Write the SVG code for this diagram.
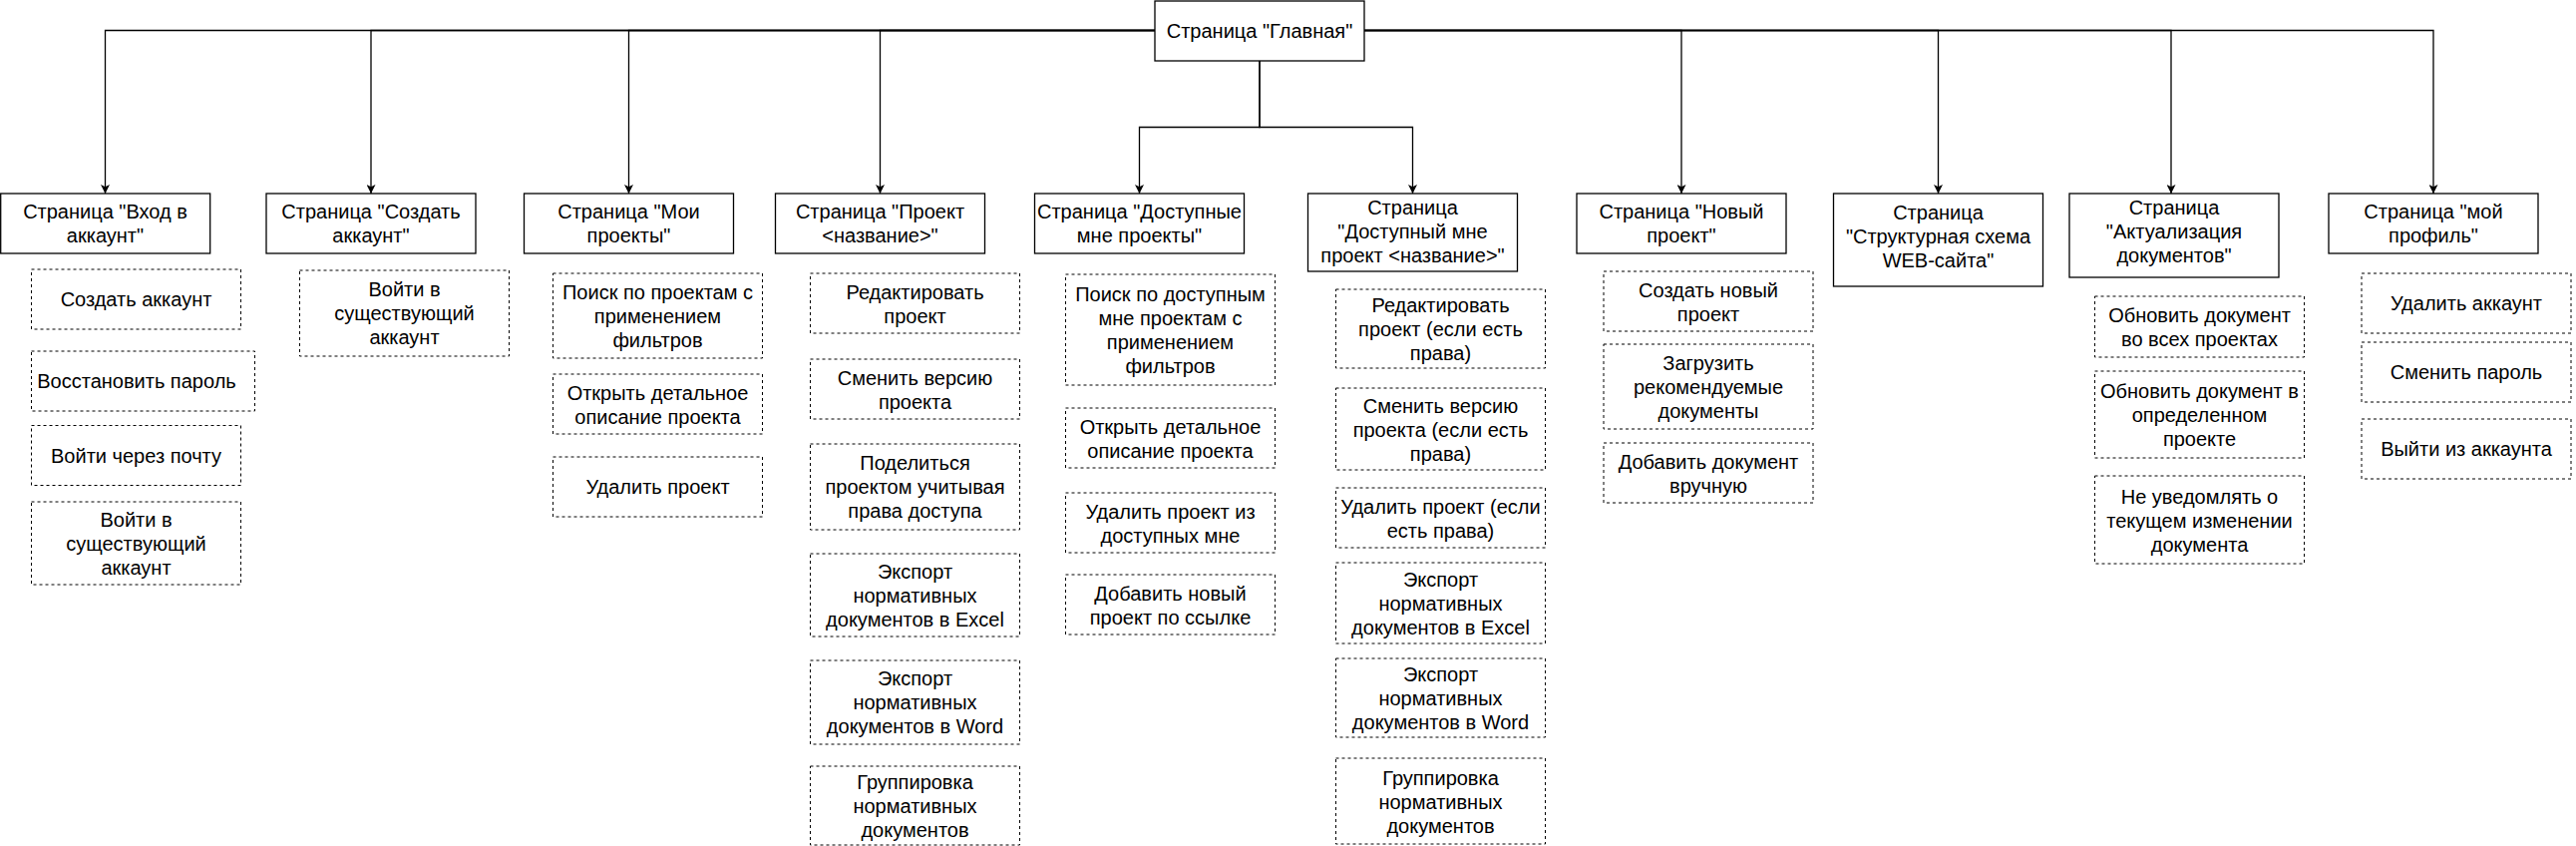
<svg xmlns="http://www.w3.org/2000/svg" width="2583" height="848" viewBox="0 0 2583 848">
<style>
text{font-family:"Liberation Sans",Arial,Helvetica,sans-serif;font-size:20px;fill:#000;text-anchor:middle}
.page{fill:#fff;stroke:#000;stroke-width:1.3}
.act{fill:#fff;stroke:#000;stroke-width:1;stroke-dasharray:3 3}
.edge{fill:none;stroke:#000;stroke-width:1.3}
</style>
<defs>
<marker id="arr" viewBox="0 0 10 10" refX="10" refY="5" markerWidth="9" markerHeight="9" markerUnits="userSpaceOnUse" orient="auto">
<path d="M0,0 L10,5 L0,10 L2.5,5 z" fill="#000"/>
</marker>
</defs>
<rect width="2583" height="848" fill="#fff"/>
<g id="connectors">
<path class="edge" marker-end="url(#arr)" d="M1158,30.5 H105.5 V194"/>
<path class="edge" marker-end="url(#arr)" d="M1158,30.5 H372 V194"/>
<path class="edge" marker-end="url(#arr)" d="M1158,30.5 H630.5 V194"/>
<path class="edge" marker-end="url(#arr)" d="M1158,30.5 H882.5 V194"/>
<path class="edge" marker-end="url(#arr)" d="M1263,61 V127.5 H1142.5 V194"/>
<path class="edge" marker-end="url(#arr)" d="M1263,61 V127.5 H1416.5 V194"/>
<path class="edge" marker-end="url(#arr)" d="M1368,30.5 H1686 V194"/>
<path class="edge" marker-end="url(#arr)" d="M1368,30.5 H1943.5 V194"/>
<path class="edge" marker-end="url(#arr)" d="M1368,30.5 H2177 V194"/>
<path class="edge" marker-end="url(#arr)" d="M1368,30.5 H2440 V194"/>
</g>
<g id="root"><rect class="page" x="1158" y="1" width="210" height="60"/><text x="1263" y="38">Страница "Главная"</text></g>

<g id="page-login"><rect class="page" x="0.7" y="194" width="210" height="60"/><text x="105.5" y="219">Страница "Вход в</text><text x="105.5" y="243">аккаунт"</text></g>
<g id="page-signup"><rect class="page" x="267" y="194" width="210" height="60"/><text x="372" y="219">Страница "Создать</text><text x="372" y="243">аккаунт"</text></g>
<g id="page-myprojects"><rect class="page" x="525.5" y="194" width="210" height="60"/><text x="630.5" y="219">Страница "Мои</text><text x="630.5" y="243">проекты"</text></g>
<g id="page-project"><rect class="page" x="777.5" y="194" width="210" height="60"/><text x="882.5" y="219">Страница "Проект</text><text x="882.5" y="243">&lt;название&gt;"</text></g>
<g id="page-shared"><rect class="page" x="1037.5" y="194" width="210" height="60"/><text x="1142.5" y="219">Страница "Доступные</text><text x="1142.5" y="243">мне проекты"</text></g>
<g id="page-sharedproject"><rect class="page" x="1311.5" y="194" width="210" height="78"/><text x="1416.5" y="215">Страница</text><text x="1416.5" y="239">"Доступный мне</text><text x="1416.5" y="263">проект &lt;название&gt;"</text></g>
<g id="page-newproject"><rect class="page" x="1581" y="194" width="210" height="60"/><text x="1686" y="219">Страница "Новый</text><text x="1686" y="243">проект"</text></g>
<g id="page-sitemap"><rect class="page" x="1838.5" y="194" width="210" height="93"/><text x="1943.5" y="220">Страница</text><text x="1943.5" y="244">"Структурная схема</text><text x="1943.5" y="268">WEB-сайта"</text></g>
<g id="page-update"><rect class="page" x="2075" y="194" width="210" height="84"/><text x="2180" y="215">Страница</text><text x="2180" y="239">"Актуализация</text><text x="2180" y="263">документов"</text></g>
<g id="page-profile"><rect class="page" x="2335" y="194" width="210" height="60"/><text x="2440" y="219">Страница "мой</text><text x="2440" y="243">профиль"</text></g>

<g id="login-create"><rect class="act" x="31.5" y="270" width="210" height="60"/><text x="136.5" y="307">Создать аккаунт</text></g>
<g id="login-restore"><rect class="act" x="31.5" y="352" width="224" height="60"/><text x="137" y="389">Восстановить пароль</text></g>
<g id="login-email"><rect class="act" x="31.5" y="426.5" width="210" height="60"/><text x="136.5" y="463.5">Войти через почту</text></g>
<g id="login-existing"><rect class="act" x="31.5" y="503" width="210" height="83"/><text x="136.5" y="527.5">Войти в</text><text x="136.5" y="551.5">существующий</text><text x="136.5" y="575.5">аккаунт</text></g>

<g id="signup-existing"><rect class="act" x="300.5" y="271" width="210" height="86"/><text x="405.5" y="297">Войти в</text><text x="405.5" y="321">существующий</text><text x="405.5" y="345">аккаунт</text></g>

<g id="my-search"><rect class="act" x="554.5" y="274" width="210" height="85"/><text x="659.5" y="299.5">Поиск по проектам с</text><text x="659.5" y="323.5">применением</text><text x="659.5" y="347.5">фильтров</text></g>
<g id="my-open"><rect class="act" x="554.5" y="375" width="210" height="60"/><text x="659.5" y="401">Открыть детальное</text><text x="659.5" y="425">описание проекта</text></g>
<g id="my-delete"><rect class="act" x="554.5" y="458" width="210" height="60"/><text x="659.5" y="495">Удалить проект</text></g>

<g id="proj-edit"><rect class="act" x="812.5" y="274" width="210" height="60"/><text x="917.5" y="300">Редактировать</text><text x="917.5" y="324">проект</text></g>
<g id="proj-version"><rect class="act" x="812.5" y="360" width="210" height="60"/><text x="917.5" y="386">Сменить версию</text><text x="917.5" y="410">проекта</text></g>
<g id="proj-share"><rect class="act" x="812.5" y="445" width="210" height="86"/><text x="917.5" y="471">Поделиться</text><text x="917.5" y="495">проектом учитывая</text><text x="917.5" y="519">права доступа</text></g>
<g id="proj-excel"><rect class="act" x="812.5" y="555" width="210" height="83"/><text x="917.5" y="579.5">Экспорт</text><text x="917.5" y="603.5">нормативных</text><text x="917.5" y="627.5">документов в Excel</text></g>
<g id="proj-word"><rect class="act" x="812.5" y="662" width="210" height="84"/><text x="917.5" y="687">Экспорт</text><text x="917.5" y="711">нормативных</text><text x="917.5" y="735">документов в Word</text></g>
<g id="proj-group"><rect class="act" x="812.5" y="768" width="210" height="79"/><text x="917.5" y="791">Группировка</text><text x="917.5" y="815">нормативных</text><text x="917.5" y="839">документов</text></g>

<g id="shared-search"><rect class="act" x="1068.5" y="275" width="210" height="111"/><text x="1173.5" y="301.5">Поиск по доступным</text><text x="1173.5" y="325.5">мне проектам с</text><text x="1173.5" y="349.5">применением</text><text x="1173.5" y="373.5">фильтров</text></g>
<g id="shared-open"><rect class="act" x="1068.5" y="409" width="210" height="60"/><text x="1173.5" y="435">Открыть детальное</text><text x="1173.5" y="459">описание проекта</text></g>
<g id="shared-remove"><rect class="act" x="1068.5" y="494" width="210" height="60"/><text x="1173.5" y="520">Удалить проект из</text><text x="1173.5" y="544">доступных мне</text></g>
<g id="shared-add"><rect class="act" x="1068.5" y="576" width="210" height="60"/><text x="1173.5" y="602">Добавить новый</text><text x="1173.5" y="626">проект по ссылке</text></g>

<g id="sp-edit"><rect class="act" x="1339.5" y="290" width="210" height="79"/><text x="1444.5" y="313">Редактировать</text><text x="1444.5" y="337">проект (если есть</text><text x="1444.5" y="361">права)</text></g>
<g id="sp-version"><rect class="act" x="1339.5" y="389" width="210" height="82"/><text x="1444.5" y="413.5">Сменить версию</text><text x="1444.5" y="437.5">проекта (если есть</text><text x="1444.5" y="461.5">права)</text></g>
<g id="sp-delete"><rect class="act" x="1339.5" y="489" width="210" height="60"/><text x="1444.5" y="515">Удалить проект (если</text><text x="1444.5" y="539">есть права)</text></g>
<g id="sp-excel"><rect class="act" x="1339.5" y="564" width="210" height="81"/><text x="1444.5" y="588">Экспорт</text><text x="1444.5" y="612">нормативных</text><text x="1444.5" y="636">документов в Excel</text></g>
<g id="sp-word"><rect class="act" x="1339.5" y="660" width="210" height="79"/><text x="1444.5" y="683">Экспорт</text><text x="1444.5" y="707">нормативных</text><text x="1444.5" y="731">документов в Word</text></g>
<g id="sp-group"><rect class="act" x="1339.5" y="760" width="210" height="86"/><text x="1444.5" y="786.5">Группировка</text><text x="1444.5" y="810.5">нормативных</text><text x="1444.5" y="834.5">документов</text></g>

<g id="new-create"><rect class="act" x="1608" y="272" width="210" height="60"/><text x="1713" y="298">Создать новый</text><text x="1713" y="322">проект</text></g>
<g id="new-load"><rect class="act" x="1608" y="345" width="210" height="85"/><text x="1713" y="371">Загрузить</text><text x="1713" y="395">рекомендуемые</text><text x="1713" y="419">документы</text></g>
<g id="new-manual"><rect class="act" x="1608" y="444" width="210" height="60"/><text x="1713" y="470">Добавить документ</text><text x="1713" y="494">вручную</text></g>

<g id="upd-all"><rect class="act" x="2100.5" y="297" width="210" height="61"/><text x="2205.5" y="323">Обновить документ</text><text x="2205.5" y="347">во всех проектах</text></g>
<g id="upd-one"><rect class="act" x="2100.5" y="372" width="210" height="87"/><text x="2205.5" y="399">Обновить документ в</text><text x="2205.5" y="423">определенном</text><text x="2205.5" y="447">проекте</text></g>
<g id="upd-mute"><rect class="act" x="2100.5" y="477" width="210" height="88"/><text x="2205.5" y="504.5">Не уведомлять о</text><text x="2205.5" y="528.5">текущем изменении</text><text x="2205.5" y="552.5">документа</text></g>

<g id="prof-delete"><rect class="act" x="2368" y="274" width="210" height="60"/><text x="2473" y="311">Удалить аккаунт</text></g>
<g id="prof-password"><rect class="act" x="2368" y="343" width="210" height="60"/><text x="2473" y="380">Сменить пароль</text></g>
<g id="prof-logout"><rect class="act" x="2368" y="420" width="210" height="60"/><text x="2473" y="457">Выйти из аккаунта</text></g>
</svg>
